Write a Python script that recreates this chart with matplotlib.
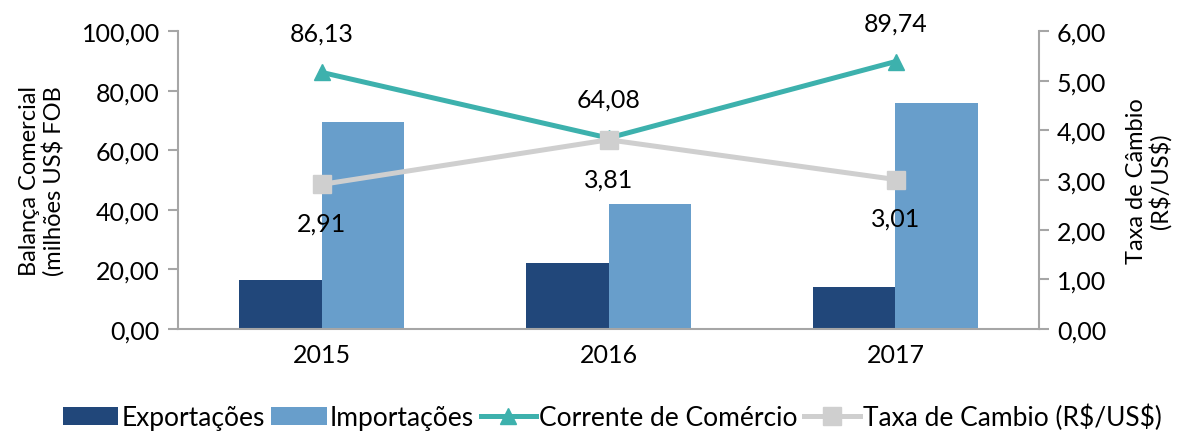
import matplotlib
matplotlib.use("Agg")
import matplotlib.pyplot as plt
import numpy as np

plt.rcParams['font.family'] = ['Lato', 'DejaVu Sans']

years = ["2015", "2016", "2017"]
exportacoes = [16.6, 22.3, 14.0]
importacoes = [69.5, 41.8, 75.7]
corrente = [86.13, 64.08, 89.74]
taxa = [2.91, 3.81, 3.01]

left_ticks = [0, 20, 40, 60, 80, 100]
right_ticks = [0, 1, 2, 3, 4, 5, 6]

c_exp = "#21477A"
c_imp = "#689ECB"
c_cor = "#3DB1AD"
c_tax = "#CFCFCF"
c_axis = "#A6A6A6"

def br(v):
    return f"{v:.2f}".replace(".", ",")

fig = plt.figure(figsize=(11.89, 4.35), dpi=100)
ax = fig.add_axes([178/1189, 1-330/435, (1039-178)/1189, (330-32)/435])
ax2 = ax.twinx()

x = np.arange(len(years))
w = 0.286
b1 = ax.bar(x - w/2, exportacoes, w, color=c_exp, label="Exportações", zorder=2)
b2 = ax.bar(x + w/2, importacoes, w, color=c_imp, label="Importações", zorder=2)
l1, = ax.plot(x, corrente, color=c_cor, lw=3.6, marker="^", ms=12, label="Corrente de Comércio", zorder=4)
l2, = ax2.plot(x, taxa, color=c_tax, lw=3.6, marker="s", ms=13, label="Taxa de Cambio (R\\$/US\\$)", zorder=4)

ax.set_xlim(-0.5, 2.5)
ax.set_ylim(0, 100)
ax2.set_ylim(0, 6)
ax.set_xticks(x)
ax.set_xticklabels(years, fontsize=18)
ax.set_yticks(left_ticks)
ax.set_yticklabels([br(v) for v in left_ticks], fontsize=18)
ax2.set_yticks(right_ticks)
ax2.set_yticklabels([br(v) for v in right_ticks], fontsize=18)

for a in (ax, ax2):
    a.spines['top'].set_visible(False)
    for s in ('left', 'right', 'bottom'):
        a.spines[s].set_color(c_axis)
        a.spines[s].set_linewidth(1.5)
    a.tick_params(axis='y', colors=c_axis, length=7, width=1.5, labelcolor='black', pad=6)
ax.tick_params(axis='x', length=0, pad=10)
ax.spines['right'].set_visible(False)
ax2.spines['left'].set_visible(False)
ax2.spines['bottom'].set_visible(False)

for xi, v in zip(x, corrente):
    ax.annotate(br(v), (xi, v), xytext=(0, 28), textcoords="offset points",
                ha="center", va="center", fontsize=18)
for xi, v in zip(x, taxa):
    ax2.annotate(br(v), (xi, v), xytext=(0, -28), textcoords="offset points",
                 ha="center", va="center", fontsize=18)

ax.set_ylabel("Balança Comercial\n(milhões US\\$ FOB", fontsize=17, linespacing=1.1, labelpad=12)
ax2.set_ylabel("Taxa de Câmbio\n(R\\$/US\\$)", fontsize=17, linespacing=1.1, labelpad=14)

fig.legend([b1, b2, l1, l2], [h.get_label() for h in (b1, b2, l1, l2)],
           loc="center", bbox_to_anchor=(0.515, 1-418/435), ncol=4, frameon=False,
           fontsize=19, handlelength=2.1, handleheight=0.7, handletextpad=0.12,
           columnspacing=0.25)

fig.savefig("out.png", dpi=100)
